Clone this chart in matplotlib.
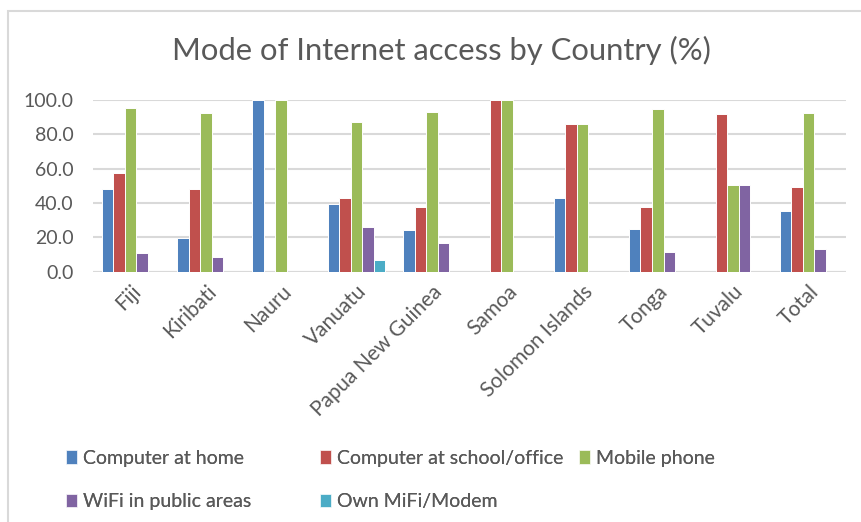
import numpy as np
import matplotlib
matplotlib.use("Agg")
import matplotlib.pyplot as plt
from matplotlib.patches import Rectangle, Patch

plt.rcParams['font.family'] = ['Lato', 'DejaVu Sans']

# data
countries = ["Fiji", "Kiribati", "Nauru", "Vanuatu", "Papua New Guinea",
             "Samoa", "Solomon Islands", "Tonga", "Tuvalu", "Total"]
computer_home = [48.2, 19.4, 100.0, 39.4, 24.1, 0.0, 42.9, 24.7, 0.0, 35.4]
computer_school = [57.7, 48.2, 0.0, 42.9, 37.5, 100.0, 86.0, 37.5, 92.0, 49.5]
mobile_phone = [95.2, 92.6, 100.0, 87.2, 93.2, 100.0, 86.0, 94.6, 50.3, 92.6]
wifi_public = [10.7, 8.5, 0.0, 26.0, 16.5, 0.0, 0.0, 11.3, 50.3, 13.2]
own_mifi = [0.0, 0.0, 0.0, 6.6, 0.0, 0.0, 0.0, 0.0, 0.0, 0.0]

series = [
    ("Computer at home", computer_home, "#4F81BD"),
    ("Computer at school/office", computer_school, "#C0504D"),
    ("Mobile phone", mobile_phone, "#9BBB59"),
    ("WiFi in public areas", wifi_public, "#8064A2"),
    ("Own MiFi/Modem", own_mifi, "#4BACC6"),
]

text_col = "#595959"

fig = plt.figure(figsize=(8.61, 5.22), dpi=100)
ax = fig.add_axes([93 / 861, 1 - 271.7 / 522, (846 - 93) / 861, (271.7 - 100) / 522])

x = np.arange(len(countries))
w = 0.153
for i, (name, vals, col) in enumerate(series):
    ax.bar(x + (i - 2) * w, vals, width=w, color=col, edgecolor="white",
           linewidth=0.7, label=name, zorder=3)

ax.set_xlim(-0.5, len(countries) - 0.5)
ax.set_ylim(0, 100)
ax.set_yticks(np.arange(0, 101, 20))
ax.set_yticklabels([f"{v:.1f}" for v in np.arange(0, 101, 20)])
ax.yaxis.grid(True, color="#d9d9d9", linewidth=1.5, zorder=0)
ax.set_axisbelow(True)
for s in ax.spines.values():
    s.set_visible(False)
ax.axhline(0, color="#d9d9d9", linewidth=1.5, zorder=1)
ax.tick_params(axis="y", length=0, pad=14, labelsize=14, labelcolor=text_col)
ax.tick_params(axis="x", length=0, pad=7, labelsize=15, labelcolor=text_col)
ax.set_xticks(x)
ax.set_xticklabels(countries, rotation=45, ha="right", rotation_mode="anchor")

fig.text(441 / 861, 1 - 50 / 522, "Mode of Internet access by Country (%)",
         ha="center", va="center", fontsize=22.3, color=text_col)

# legend in three columns like the original
def col_legend(names, xpos):
    handles = [Patch(facecolor=c, edgecolor="white", linewidth=0.5)
               for (n, v, c) in series if n in names]
    labels = [n for (n, v, c) in series if n in names]
    leg = fig.legend(handles, labels, loc="upper left",
                     bbox_to_anchor=(xpos / 861, 1 - 450 / 522),
                     frameon=False, fontsize=14, labelcolor=text_col,
                     handlelength=0.55, handleheight=0.7, handletextpad=0.3,
                     labelspacing=1.35, borderpad=0, borderaxespad=0)
    fig.add_artist(leg)

col_legend(["Computer at home", "WiFi in public areas"], 66)
col_legend(["Computer at school/office", "Own MiFi/Modem"], 320)
col_legend(["Mobile phone"], 579)

fig.patches.append(Rectangle((8 / 861, -0.1), 1.2, 1.1 - 11 / 522,
                             transform=fig.transFigure, fill=False,
                             edgecolor="#d9d9d9", linewidth=1.5))

fig.savefig("out.png", dpi=100)
